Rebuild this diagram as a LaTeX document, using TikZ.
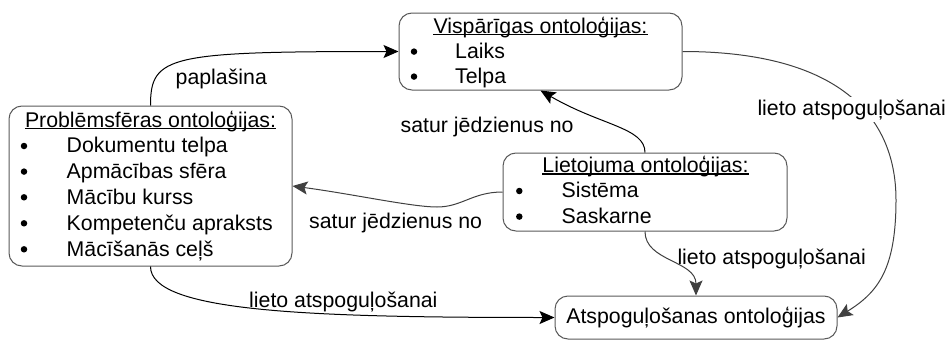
\documentclass[tikz,border=0pt]{standalone}
\usepackage{fontspec}
\setmainfont{Liberation Sans}
\usetikzlibrary{arrows.meta}
\definecolor{boxgray}{HTML}{595959}
\definecolor{arrgray}{HTML}{404040}
\begin{document}
\begin{tikzpicture}[x=1pt,y=-1pt,
  box/.style={draw=boxgray, line width=1pt, rounded corners=13pt, inner sep=0pt},
  txt/.style={inner sep=0pt, font=\fontsize{21.3pt}{26pt}\selectfont},
  itm/.style={txt, anchor=base west},
  lbl/.style={txt, anchor=base west},
  ttl/.style={txt, anchor=base},
  bul/.style={circle, fill=black, inner sep=0pt, minimum size=6.5pt},
  arr/.style={line width=1pt, -{Stealth[length=15pt,width=13pt,inset=3pt]}},
  blk/.style={arr, draw=black},
  gry/.style={arr, draw=arrgray},
  uline/.style={line width=1.3pt}
]
\useasboundingbox (0,0) rectangle (948,340);

% boxes
\node[box, minimum width=283pt, minimum height=77pt] (vis) at (540.5,51.5) {};
\node[box, minimum width=283pt, minimum height=160pt] (prob) at (150.5,186) {};
\node[box, minimum width=284pt, minimum height=78pt] (liet) at (645,192) {};
\node[box, minimum width=282pt, minimum height=43pt] (atsp) at (696,317.5) {};

% connectors
\draw[blk] (prob.north) .. controls +(0,-50) and +(-230,0) .. (vis.west);
\draw[blk] (liet.north) .. controls +(0,-25) and +(60,35) .. (vis.south);
\draw[gry] (liet.west) .. controls +(-30,0) and +(25,0) .. (437,207)
  .. controls +(-25,0) and +(60,8) .. (prob.east);
\draw[blk] (prob.south) .. controls +(0,45) and +(-250,0) .. (atsp.west);
\draw[gry] (liet.south) .. controls +(0,30) and +(0,-35) .. (atsp.north);
\draw[gry] (vis.east) .. controls +(148,0) and +(0,-90) .. (896,200)
  .. controls +(0,70) and +(40,-25) .. (atsp.east);

% Vispārīgas
\node[ttl] (vist) at (540.5,33) {Vispārīgas ontoloģijas:};
\draw[uline] ([yshift=-1.7pt]vist.base west) -- ([yshift=-1.7pt]vist.base east);
\node[bul] (vb1) at (414,51.6) {};
\node[bul] (vb2) at (414,76.6) {};
\node[itm] (vi1) at (455,58.3) {Laiks};
\node[itm] (vi2) at (455,83.3) {Telpa};

% Problēmsfēras
\node[ttl] (probt) at (150.5,127) {Problēmsfēras ontoloģijas:};
\draw[uline] ([yshift=-1.7pt]probt.base west) -- ([yshift=-1.7pt]probt.base east);
\node[bul] (pb1) at (24,146) {};
\node[bul] (pb2) at (24,171.6) {};
\node[bul] (pb3) at (24,197.3) {};
\node[bul] (pb4) at (24,223.3) {};
\node[bul] (pb5) at (24,249.3) {};
\node[itm] (pi1) at (66.5,152.7) {Dokumentu telpa};
\node[itm] (pi2) at (66.5,178.3) {Apmācības sfēra};
\node[itm] (pi3) at (66.5,204) {Mācību kurss};
\node[itm] (pi4) at (66.5,230) {Kompetenču apraksts};
\node[itm] (pi5) at (66.5,256) {Mācīšanās ceļš};

% Lietojuma
\node[ttl] (liett) at (645.5,172.3) {Lietojuma ontoloģijas:};
\draw[uline] ([yshift=-1.7pt]liett.base west) -- ([yshift=-1.7pt]liett.base east);
\node[bul] (lb1) at (519.3,191) {};
\node[bul] (lb2) at (519.3,216.6) {};
\node[itm] (li1) at (561.5,197.7) {Sistēma};
\node[itm] (li2) at (561.5,223.3) {Saskarne};

% Atspoguļošanas
\node[txt] (atspt) at (696,317.5) {Atspoguļošanas ontoloģijas};

% labels
\node[lbl] (l1) at (175.5,84) {paplašina};
\node[lbl] (l2) at (400.5,132.3) {satur jēdzienus no};
\node[lbl] (l3) at (309,228.3) {satur jēdzienus no};
\node[lbl] (l4) at (249,307.3) {lieto atspoguļošanai};
\node[lbl] (l5) at (677.3,264) {lieto atspoguļošanai};
\node[lbl, fill=white, inner ysep=2pt] (l6) at (757.3,115) {lieto atspoguļošanai};
\end{tikzpicture}
\end{document}
